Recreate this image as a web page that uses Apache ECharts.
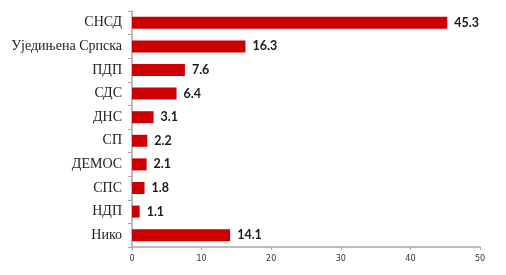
<!DOCTYPE html>
<html><head><meta charset="utf-8">
<script src="https://cdn.jsdelivr.net/npm/echarts@6/dist/echarts.min.js"></script>
<style>html,body{margin:0;padding:0;background:#fff}#c{width:506px;height:275px}</style>
</head><body><div id="c"></div>
<script>
const categories = ["СНСД","Уједињена Српска","ПДП","СДС","ДНС","СП","ДЕМОС","СПС","НДП","Нико"];
const values = [45.3,16.3,7.6,6.4,3.1,2.2,2.1,1.8,1.1,14.1];
const xTicks = [0,10,20,30,40,50];
const chart = echarts.init(document.getElementById('c'), null, {renderer:'canvas'});
chart.setOption({
  animation:false,
  grid:{left:132,right:26,top:11,bottom:28,containLabel:false},
  xAxis:{type:'value',min:xTicks[0],max:xTicks[xTicks.length-1],interval:10,
    splitLine:{show:false},
    axisLine:{show:true,lineStyle:{color:'#a6a6a6',width:1.5}},
    axisTick:{show:true,length:3,lineStyle:{color:'#a6a6a6'}},
    axisLabel:{fontFamily:'DejaVu Sans',fontSize:8,color:'#333',margin:8}},
  yAxis:{type:'category',data:categories,inverse:true,
    axisLine:{show:true,lineStyle:{color:'#a6a6a6',width:1.5}},
    axisTick:{show:true,length:4,lineStyle:{color:'#a6a6a6'}},
    axisLabel:{fontFamily:'Liberation Serif',fontSize:14,color:'#222',margin:10}},
  series:[{type:'bar',data:values,barWidth:12,
    itemStyle:{color:'#cc0000'},
    label:{show:true,position:'right',distance:7,fontFamily:'Lato',fontWeight:'bold',fontSize:12.5,color:'#1a1a1a',
      formatter:p=>p.value.toFixed(1)}}]
});
</script></body></html>
